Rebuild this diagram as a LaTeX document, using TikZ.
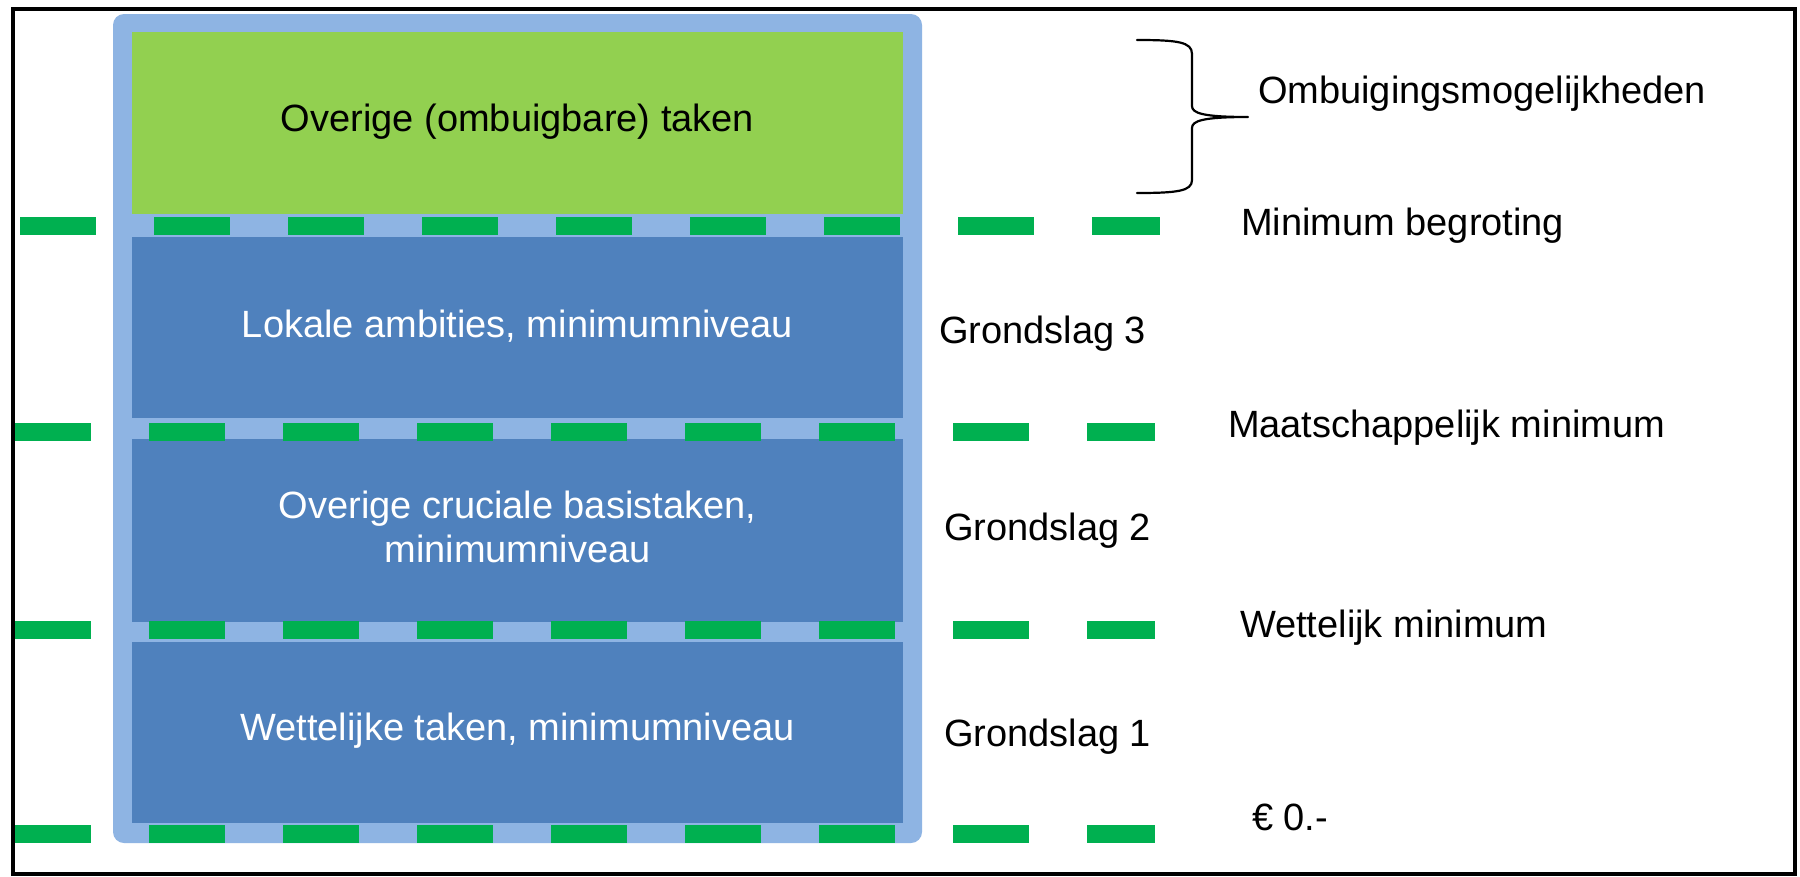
\documentclass[tikz,border=0pt]{standalone}
\usepackage{fontspec}
\setmainfont{Liberation Sans}
\definecolor{shellblue}{HTML}{8EB4E3}
\definecolor{taskblue}{HTML}{4F81BD}
\definecolor{taskgreen}{HTML}{92D050}
\definecolor{levelgreen}{HTML}{00B050}
\newcommand\lblfont{\fontsize{38}{44}\selectfont}
\begin{document}
\begin{tikzpicture}[x=1pt,y=-1pt,
  shell/.style={fill=shellblue, rounded corners=11pt, inner sep=0pt, outer sep=0pt,
                minimum width=809pt, minimum height=829pt},
  task/.style={fill=taskblue, inner sep=0pt, outer sep=0pt, minimum width=771pt},
  spare/.style={task, fill=taskgreen},
  level/.style={draw=levelgreen, line width=18pt, dash pattern=on 76pt off 58pt},
  lbl/.style={font=\lblfont, inner sep=0pt, outer sep=0pt, text=black},
  inlbl/.style={lbl, text=white},
  bracket/.style={draw=black, line width=2.2pt, line join=round, line cap=round}
]
\useasboundingbox (0,0) rectangle (1800,876);
\fill[white] (0,0) rectangle (1800,876);

% outer frame
\draw[line width=4.5pt] (13,9) rectangle (1795,874);

% column with the four task layers
\node[shell] (col) at (517.5,428.5) {};
\node[spare, minimum height=182pt] (b4) at (517.5,123) {};
\node[task,  minimum height=181pt] (b3) at (517.5,327.5) {};
\node[task,  minimum height=183pt] (b2) at (517.5,530.5) {};
\node[task,  minimum height=181pt] (b1) at (517.5,732.5) {};

\node[lbl, anchor=base] (t4) at (517.5,131.5) {Overige (ombuigbare) taken};
\node[inlbl, anchor=base] (t3) at (517.5,337.5) {Lokale ambities, minimumniveau};
\node[inlbl, align=center, anchor=center] (t2) at (517.5,527) {Overige cruciale basistaken,\\minimumniveau};
\node[inlbl, anchor=base] (t1) at (517.5,740) {Wettelijke taken, minimumniveau};

% budget levels
\coordinate (l4a) at (20,226);  \coordinate (l4b) at (1160,226);
\coordinate (l3a) at (15,432);  \coordinate (l3b) at (1155,432);
\coordinate (l2a) at (15,630);  \coordinate (l2b) at (1155,630);
\coordinate (l1a) at (15,834);  \coordinate (l1b) at (1155,834);
\draw[level] (l4a) -- (l4b);
\draw[level] (l3a) -- (l3b);
\draw[level] (l2a) -- (l2b);
\draw[level] (l1a) -- (l1b);

% brace
\coordinate (bt) at (1137,40);
\coordinate (bb) at (1137,193);
\coordinate (tip) at (1248,117);
\draw[bracket] (bt) .. controls (1178,40) and (1192,42) .. (1192,54)
  -- (1192,106) .. controls (1192,113) and (1202,117) .. (tip)
  .. controls (1202,117) and (1192,121) .. (1192,128)
  -- (1192,180) .. controls (1192,191) and (1178,193) .. (bb);

% labels on the right
\node[lbl, anchor=base west] (om)  at (1258,103) {Ombuigingsmogelijkheden};
\node[lbl, anchor=base west] (mb)  at (1241,235) {Minimum begroting};
\node[lbl, anchor=base west] (g3)  at (939,343)  {Grondslag 3};
\node[lbl, anchor=base west] (mm)  at (1228,437) {Maatschappelijk minimum};
\node[lbl, anchor=base west] (g2)  at (944,540)  {Grondslag 2};
\node[lbl, anchor=base west] (wm)  at (1240,637) {Wettelijk minimum};
\node[lbl, anchor=base west] (g1)  at (944,746)  {Grondslag 1};
\node[lbl, anchor=base west] (nul) at (1252,830) {€ 0.-};
\end{tikzpicture}
\end{document}
